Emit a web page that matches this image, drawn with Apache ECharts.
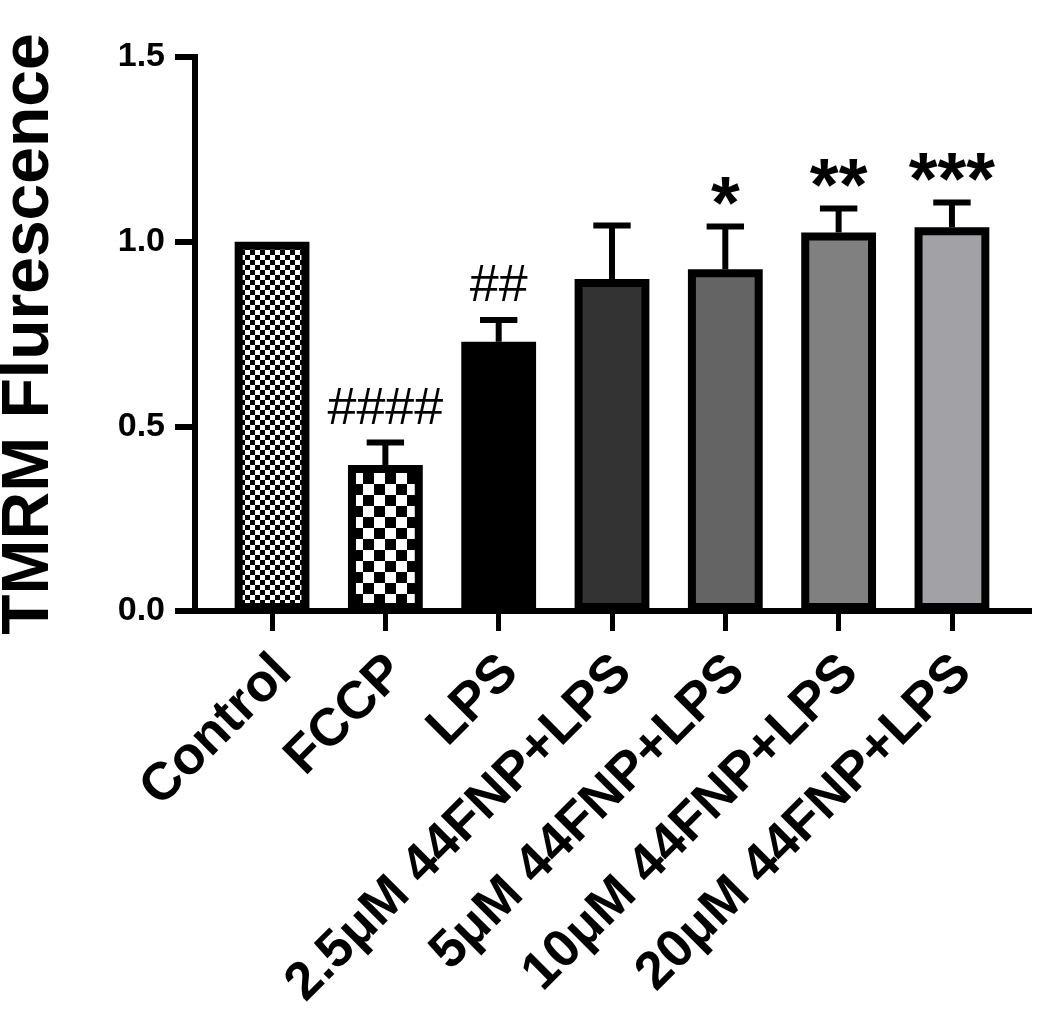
<!DOCTYPE html>
<html>
<head>
<meta charset="utf-8">
<script src="https://cdn.jsdelivr.net/npm/echarts@6/dist/echarts.min.js"></script>
<style>
  html, body { margin: 0; padding: 0; background: #fff; }
  #chart { width: 1050px; height: 1023px; }
</style>
</head>
<body>
<div id="chart"></div>
<script>
// data
const categories = ['Control', 'FCCP', 'LPS', '2.5μM 44FNP+LPS', '5μM 44FNP+LPS', '10μM 44FNP+LPS', '20μM 44FNP+LPS']
const means = [1.0, 0.395, 0.729, 0.899, 0.925, 1.025, 1.039]
const sems = [0, 0.061, 0.059, 0.145, 0.116, 0.065, 0.067]
const signif = ['', '####', '##', '', '*', '**', '***']

const FONT = '"Liberation Sans", Arial, Helvetica, sans-serif'

// checkerboard fill
const checker = (s) => {
  const c = document.createElement('canvas')
  c.width = s * 2
  c.height = s * 2
  const ctx = c.getContext('2d')
  ctx.fillStyle = '#fff'
  ctx.fillRect(0, 0, s * 2, s * 2)
  ctx.fillStyle = '#000'
  ctx.fillRect(0, 0, s, s)
  ctx.fillRect(s, s, s, s)
  return { image: c, repeat: 'repeat' }
}

const barFills = [checker(5), checker(11), '#000000', '#333333', '#646464', '#808080', '#a2a1a6']

const renderBar = (params, api) => {
  const i = api.value(0)
  const mean = api.value(1)
  const sem = api.value(2)
  const top = api.coord([i, mean])
  const base = api.coord([i, 0])
  const band = api.size([1, 0])[0]
  const w = band * 0.66
  const bw = 8
  const cx = top[0]
  const children = []

  if (sem > 0) {
    const hi = api.coord([i, mean + sem])
    const capW = band * 0.33
    children.push({
      type: 'line',
      shape: { x1: cx, y1: top[1], x2: cx, y2: hi[1] },
      style: { stroke: '#000', lineWidth: 6 }
    })
    children.push({
      type: 'line',
      shape: { x1: cx - capW / 2, y1: hi[1], x2: cx + capW / 2, y2: hi[1] },
      style: { stroke: '#000', lineWidth: 6 }
    })
    if (signif[i]) {
      const isStar = signif[i].indexOf('*') >= 0
      children.push({
        type: 'text',
        x: cx,
        y: hi[1] - (isStar ? -18 : 7),
        style: {
          text: signif[i],
          fill: '#000',
          align: 'center',
          verticalAlign: 'bottom',
          font: (isStar ? 'bold 74px ' : 'normal 52px ') + FONT
        }
      })
    }
  }

  children.push({
    type: 'rect',
    shape: {
      x: cx - w / 2 + bw / 2,
      y: top[1] + bw / 2,
      width: w - bw,
      height: base[1] - top[1] - bw
    },
    style: { fill: barFills[i], stroke: '#000', lineWidth: bw }
  })

  return { type: 'group', children }
}

const chart = echarts.init(document.getElementById('chart'))
const idx = categories.map((c, i) => i)

chart.setOption({
  animation: false,
  backgroundColor: '#fff',
  grid: { left: 195, right: 21, top: 57, bottom: 412, outerBoundsMode: 'none' },
  xAxis: {
    type: 'value',
    min: -0.68,
    max: 6.68,
    splitLine: { show: false },
    axisLine: { show: true, onZero: false, lineStyle: { color: '#000', width: 6, cap: 'square' } },
    axisTick: { show: true, customValues: idx, length: 20, lineStyle: { color: '#000', width: 5 } },
    axisLabel: {
      customValues: idx,
      formatter: (v) => categories[Math.round(v)],
      rotate: 45,
      margin: 42,
      verticalAlign: 'top',
      lineHeight: 32,
      fontSize: 53,
      fontWeight: 'bold',
      fontFamily: FONT,
      color: '#000'
    }
  },
  yAxis: {
    type: 'value',
    min: 0,
    max: 1.5,
    interval: 0.5,
    splitLine: { show: false },
    axisLine: { show: true, onZero: false, lineStyle: { color: '#000', width: 6, cap: 'square' } },
    axisTick: { show: true, length: 20, lineStyle: { color: '#000', width: 6 } },
    axisLabel: {
      formatter: (v) => v.toFixed(1),
      margin: 30,
      fontSize: 34,
      fontWeight: 'bold',
      fontFamily: FONT,
      color: '#000'
    },
    name: 'TMRM Flurescence',
    nameLocation: 'middle',
    nameGap: 132,
    nameTextStyle: { fontSize: 66, fontWeight: 'bold', fontFamily: FONT, color: '#000' }
  },
  series: [
    {
      type: 'custom',
      renderItem: renderBar,
      data: categories.map((c, i) => [i, means[i], sems[i]]),
      encode: { x: 0, y: 1 }
    }
  ]
})
</script>
</body>
</html>
